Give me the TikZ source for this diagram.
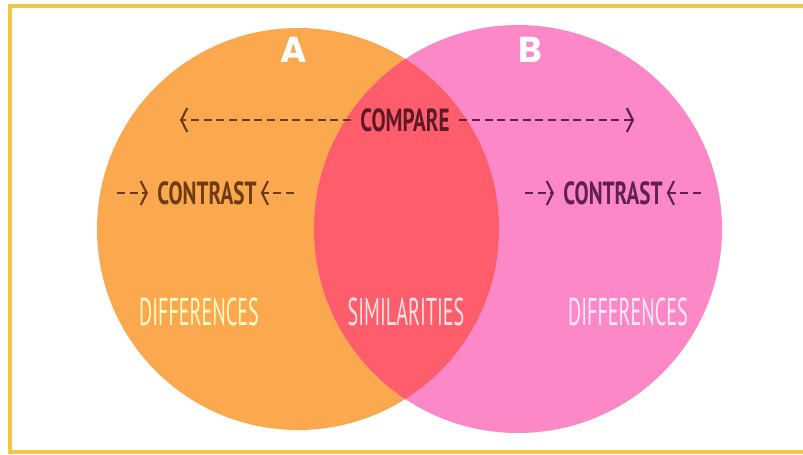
\documentclass[tikz,border=0pt]{standalone}
\usepackage{fontspec}
\usetikzlibrary{arrows.meta}
\newfontfamily\narrowfont[FakeStretch=0.66]{PT Sans}
\newfontfamily\slimfont[FakeStretch=0.52]{PT Sans}
\newfontfamily\headfont{Poppins}
\definecolor{frameyellow}{HTML}{F3C648}
\definecolor{setA}{HTML}{FCA84F}
\definecolor{setB}{HTML}{FD88C8}
\definecolor{overlap}{HTML}{FE5D6C}
\definecolor{brownink}{HTML}{6E3C12}
\definecolor{plumink}{HTML}{62204C}
\definecolor{maroonink}{HTML}{5E1828}
\begin{document}
\begin{tikzpicture}[x=0.75pt,y=-0.75pt,
  lbl/.style={font=\narrowfont\bfseries\fontsize{24}{24}\selectfont, inner sep=0pt},
  big/.style={font=\slimfont\fontsize{29}{29}\selectfont, inner sep=0pt},
  dashline/.style={line width=1.5pt, dash pattern=on 6pt off 3.5pt,
    -{Straight Barb[length=4.5pt,width=18pt,line width=1.6pt]}}]
\useasboundingbox (0,0) rectangle (803,454);
\clip (0,0) rectangle (803,454);
\fill [white] (0,0) rectangle (803,454);
\draw [frameyellow, line width=2.4pt] (860,6) -- (10,6) -- (10,452) -- (860,452);
% the two sets and their overlap
\fill [setA] (298,229) circle [radius=201];
\fill [setB] (518,229) circle [radius=204];
\begin{scope}
\clip (298,229) circle [radius=201];
\fill [overlap] (518,229) circle [radius=204];
\end{scope}
\node [font=\headfont\bfseries\fontsize{27}{27}\selectfont, text=white] (A) at (294,50) {A};
\node [font=\headfont\bfseries\fontsize{27}{27}\selectfont, text=white] (B) at (530,50) {B};
% compare
\node [lbl, text=maroonink] (cmp) at (405,120) {COMPARE};
\coordinate (cmpL) at (180,120);
\coordinate (cmpR) at (634,120);
\draw [dashline, brownink, shorten <=7pt] (cmp.west) -- (cmpL);
\draw [dashline, plumink, shorten <=7pt] (cmp.east) -- (cmpR);
% contrast
\node [lbl, text=brownink] (ctA) at (207,193) {CONTRAST};
\coordinate (ctAl) at (117,193);
\coordinate (ctAr) at (294,193);
\draw [dashline, brownink, shorten >=7pt] (ctAl) -- (ctA.west);
\draw [dashline, brownink, shorten >=3pt] (ctAr) -- (ctA.east);
\node [lbl, text=plumink] (ctB) at (613,193) {CONTRAST};
\coordinate (ctBl) at (525,193);
\coordinate (ctBr) at (701,193);
\draw [dashline, plumink, shorten >=7pt] (ctBl) -- (ctB.west);
\draw [dashline, plumink, shorten >=3pt] (ctBr) -- (ctB.east);
% bottom labels
\node [big, text=yellow!22] (difA) at (199,312) {DIFFERENCES};
\node [big, text=pink!40] (sim) at (406,312) {SIMILARITIES};
\node [big, text=magenta!8] (difB) at (628,312) {DIFFERENCES};
\end{tikzpicture}
\end{document}
